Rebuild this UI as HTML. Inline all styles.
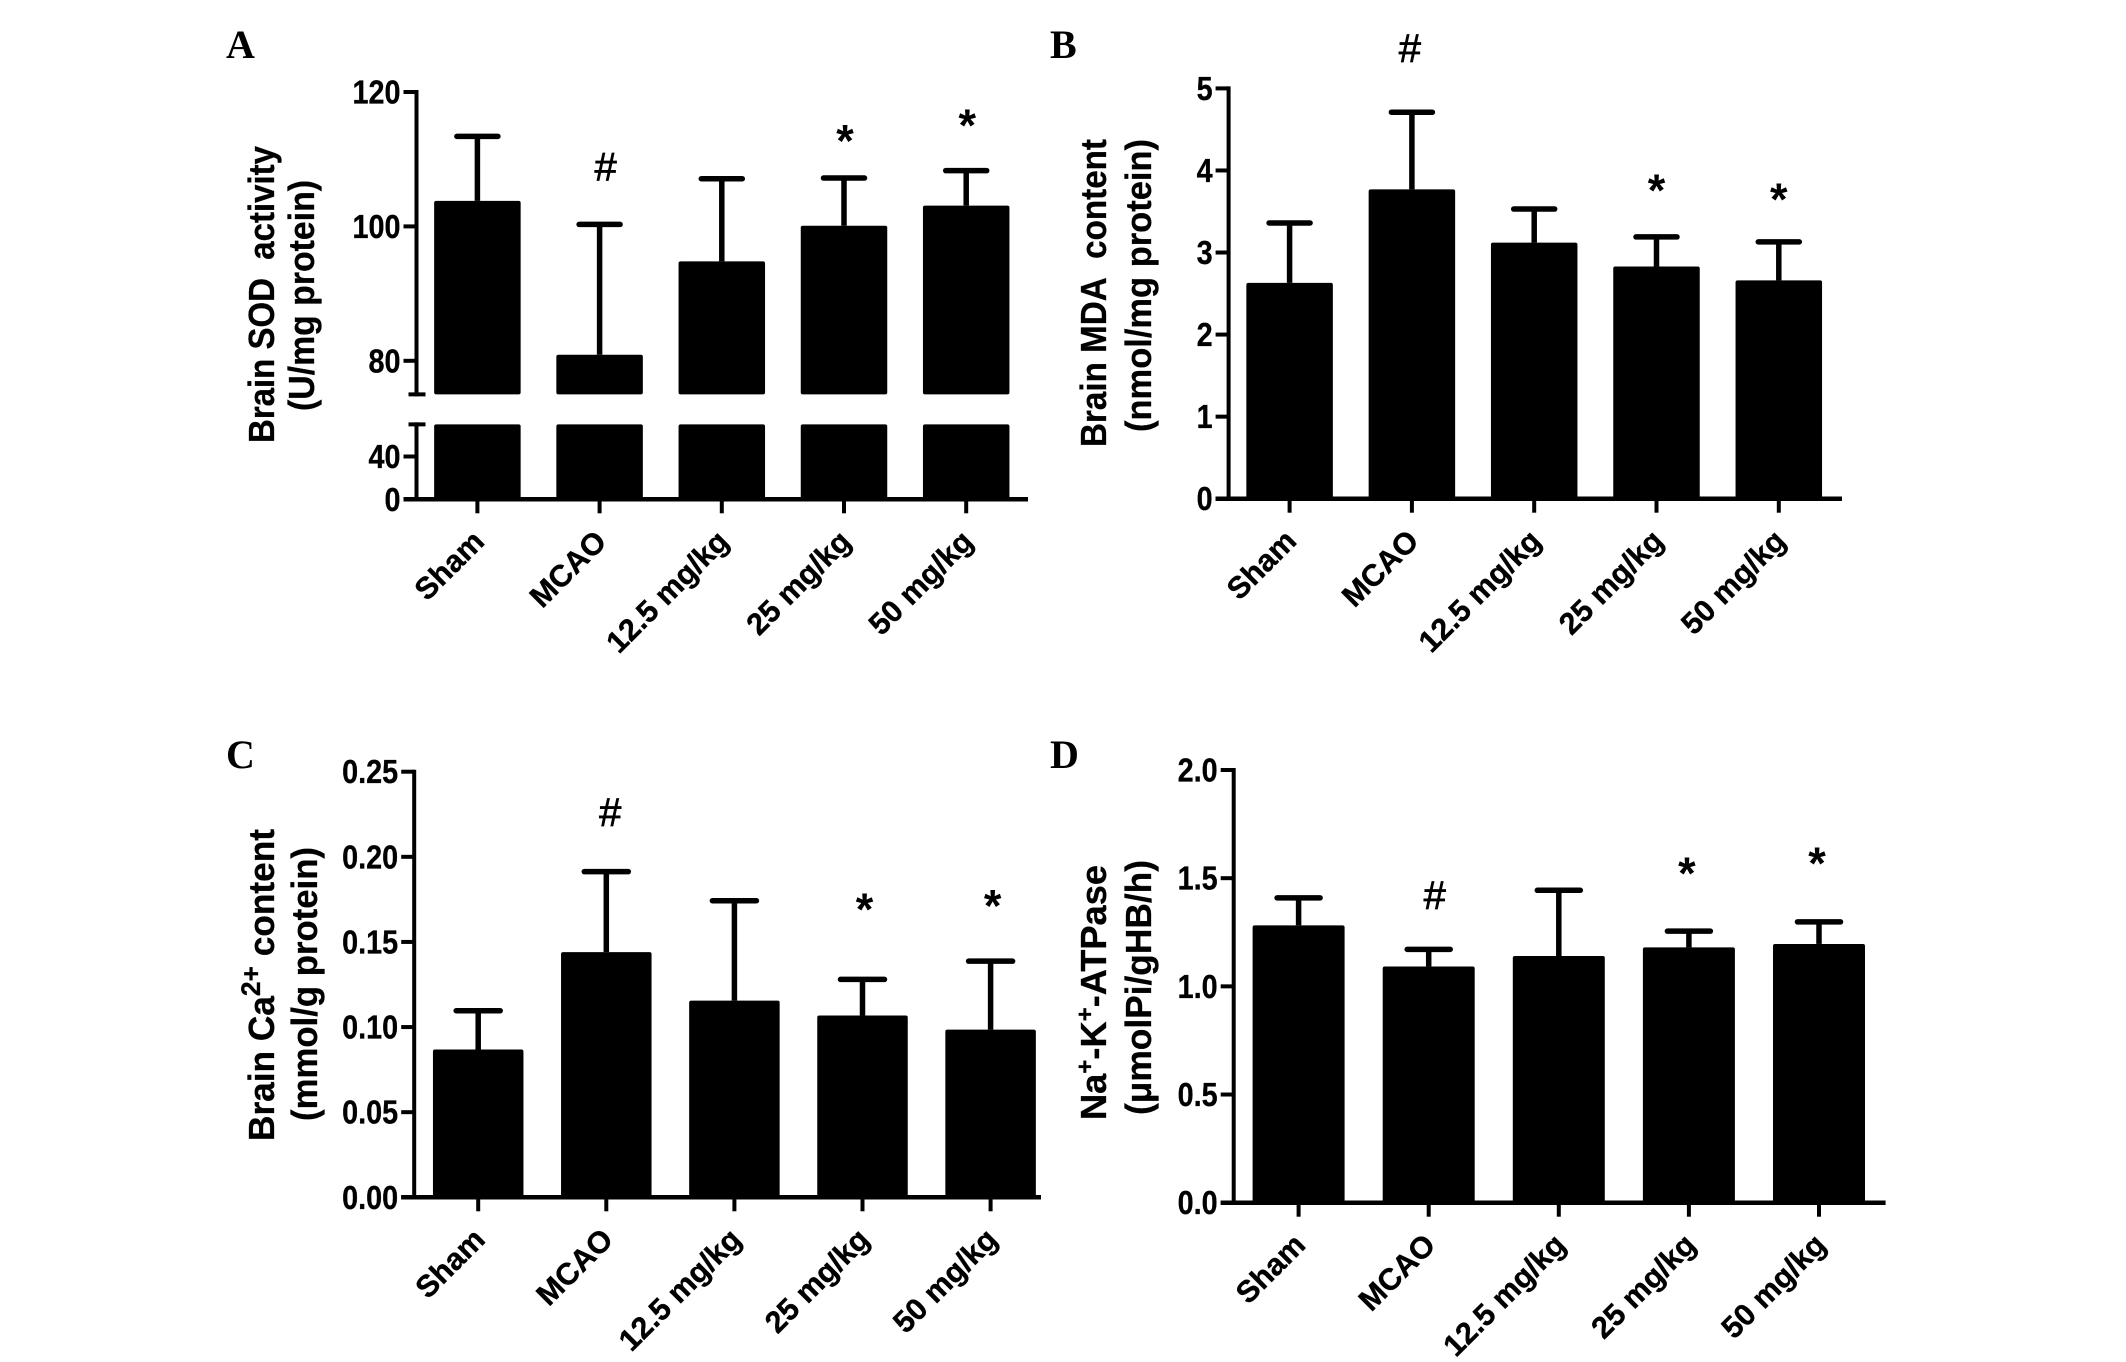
<!DOCTYPE html>
<html lang="en">
<head>
<meta charset="utf-8">
<title>Brain biochemical markers across treatment groups</title>
<style>
html,body{margin:0;padding:0;background:#fff;}
svg{display:block;}
text{font-family:"Liberation Sans",Arial,sans-serif;fill:#000;}
.tick{font-weight:700;font-size:33px;stroke:#000;stroke-width:.3px;}
.cat{font-weight:700;font-size:30.5px;stroke:#000;stroke-width:.4px;}
.title{font-weight:700;font-size:36px;stroke:#000;stroke-width:.3px;}
.panel{font-family:"Liberation Serif","Times New Roman",serif;font-weight:700;font-size:40px;}
.hash{font-size:40px;stroke:#000;stroke-width:.7px;}
.star{font-size:45px;font-weight:700;}
</style>
</head>
<body>
<svg id="fig" xmlns="http://www.w3.org/2000/svg" width="2126" height="1362" viewBox="0 0 2126 1362">
  <rect x="0" y="0" width="2126" height="1362" fill="#fff"/>

  <text class="panel" x="226" y="58">A</text>
  <text class="panel" x="1050" y="58">B</text>
  <text class="panel" x="226" y="768">C</text>
  <text class="panel" x="1050" y="768">D</text>

  <text class="title" transform="translate(274,443) rotate(-90)" textLength="297" lengthAdjust="spacingAndGlyphs">Brain SOD&#160;&#160;activity</text>
  <text class="title" transform="translate(314,411) rotate(-90)" textLength="231" lengthAdjust="spacingAndGlyphs">(U/mg protein)</text>

  <text class="title" transform="translate(1106,447) rotate(-90)" textLength="308" lengthAdjust="spacingAndGlyphs">Brain MDA&#160;&#160;content</text>
  <text class="title" transform="translate(1151,432) rotate(-90)" textLength="293" lengthAdjust="spacingAndGlyphs">(nmol/mg protein)</text>

  <text class="title" transform="translate(274,1141) rotate(-90)" textLength="312" lengthAdjust="spacingAndGlyphs">Brain Ca<tspan font-size="27" dy="-14">2+</tspan><tspan dy="14">&#160;content</tspan></text>
  <text class="title" transform="translate(317,1121) rotate(-90)" textLength="274" lengthAdjust="spacingAndGlyphs">(mmol/g protein)</text>

  <text class="title" transform="translate(1106,1120) rotate(-90)" textLength="255" lengthAdjust="spacingAndGlyphs">Na<tspan font-size="24" dy="-13">+</tspan><tspan dy="13">-K</tspan><tspan font-size="24" dy="-13">+</tspan><tspan dy="13">-ATPase</tspan></text>
  <text class="title" transform="translate(1151,1115) rotate(-90)" textLength="255" lengthAdjust="spacingAndGlyphs">(μmolPi/gHB/h)</text>
</svg>

<script>
// ---- shared categories ----
var categories = ['Sham', 'MCAO', '12.5 mg/kg', '25 mg/kg', '50 mg/kg'];
var annotationSymbols = ['', '#', '', '*', '*'];

// ---- panel A: Brain SOD activity (broken axis) ----
var sodValues = [103.8, 80.9, 94.8, 100.1, 103.1];
var sodErrorTops = [113.4, 100.3, 107.1, 107.2, 108.3];
var sodTickLabels = ['0', '40', '80', '100', '120'];
var sodAnnotationLevels = [null, 108.8, null, 113.8, 116.1];

// ---- panel B: Brain MDA content ----
var mdaValues = [2.63, 3.77, 3.12, 2.83, 2.66];
var mdaErrorTops = [3.36, 4.71, 3.53, 3.19, 3.13];
var mdaTickLabels = ['0', '1', '2', '3', '4', '5'];
var mdaAnnotationLevels = [null, 5.48, null, 3.85, 3.74];

// ---- panel C: Brain Ca2+ content ----
var caValues = [0.0868, 0.144, 0.1155, 0.1068, 0.0985];
var caErrorTops = [0.1096, 0.1913, 0.1742, 0.128, 0.1387];
var caTickLabels = ['0.00', '0.05', '0.10', '0.15', '0.20', '0.25'];
var caAnnotationLevels = [null, 0.2257, null, 0.1736, 0.1756];

// ---- panel D: Na+-K+-ATPase ----
var atpaseValues = [1.282, 1.092, 1.14, 1.18, 1.196];
var atpaseErrorTops = [1.409, 1.171, 1.444, 1.255, 1.298];
var atpaseTickLabels = ['0.0', '0.5', '1.0', '1.5', '2.0'];
var atpaseAnnotationLevels = [null, 1.4185, null, 1.557, 1.603];

var NS = 'http://www.w3.org/2000/svg';
var fig = document.getElementById('fig');

function makeEl(tag, attrs, parent) {
  var el = document.createElementNS(NS, tag);
  for (var k in attrs) { el.setAttribute(k, attrs[k]); }
  parent.appendChild(el);
  return el;
}

function linearScale(d0, d1, r0, r1) {
  return function (v) { return r0 + (v - d0) * (r1 - r0) / (d1 - d0); };
}

// width of a numeric tick label, keeping the tall-but-narrow look of the original
function tickLabelLength(t) {
  var w = 0;
  for (var i = 0; i < t.length; i++) { w += t.charAt(i) === '.' ? 0.278 : 0.556; }
  return w * 28.8;
}

function drawPanel(cfg) {
  var g = makeEl('g', {}, fig);
  
  

  var xPos = function (i) { return cfg.xFirst + cfg.step * i; };
  var y = cfg.yScale;
  var SW = 4;

  // bars
  categories.forEach(function (cat, i) {
    var cx = xPos(i);
    var v = cfg.values[i];
    var segments = cfg.barSegments(v);
    segments.forEach(function (s) {
      var bar = makeEl('rect', {x: cx - cfg.barW / 2, y: s[0], width: cfg.barW, height: s[1] - s[0], rx: 2, fill: '#000'}, g);
      
      
    });

    var topY = y(cfg.errorTops[i]);
    var stem = makeEl('line', {x1: cx, x2: cx, y1: y(v), y2: topY, stroke: '#000', 'stroke-width': 5.5}, g);
    
    

    var cap = makeEl('line', {x1: cx - cfg.capW / 2, x2: cx + cfg.capW / 2, y1: topY, y2: topY, stroke: '#000', 'stroke-width': 5.5, 'stroke-linecap': 'round'}, g);
    
    

    var tick = makeEl('line', {x1: cx, x2: cx, y1: cfg.yBase, y2: cfg.yBase + 14, stroke: '#000', 'stroke-width': SW}, g);
    
    

    var ax = cx + 8.5;
    var ay = cfg.yBase + 44;
    var lab = makeEl('text', {'class': 'cat', 'text-anchor': 'end', transform: 'translate(' + ax + ',' + ay + ') rotate(-45)'}, g);
    lab.textContent = cat;
    
    

    var sym = annotationSymbols[i];
    var lvl = cfg.annotationLevels[i];
    if (sym && lvl !== null) {
      var isHash = sym === '#';
      var note = makeEl('text', {
        'class': isHash ? 'hash' : 'star',
        'text-anchor': 'middle',
        x: cx + (isHash ? cfg.hashNudge : cfg.starNudge),
        y: y(lvl) + (isHash ? 13 : 23)
      }, g);
      note.textContent = sym;
      
      
    }
  });

  // y axis line(s)
  cfg.axisSegments.forEach(function (s) {
    var axis = makeEl('line', {x1: cfg.axisX, x2: cfg.axisX, y1: s[0] - SW / 2, y2: s[1] + SW / 2, stroke: '#000', 'stroke-width': SW}, g);
    
    
  });

  // baseline
  var base = makeEl('line', {x1: cfg.axisX - 13, x2: cfg.baseRight, y1: cfg.yBase, y2: cfg.yBase, stroke: '#000', 'stroke-width': SW + 0.5}, g);
  
  

  // y ticks + labels
  cfg.tickLabels.forEach(function (t) {
    var ty = y(parseFloat(t));
    var tk = makeEl('line', {x1: cfg.axisX - 13, x2: cfg.axisX, y1: ty, y2: ty, stroke: '#000', 'stroke-width': SW}, g);
    
    

    var tl = makeEl('text', {
      'class': 'tick', 'text-anchor': 'end', x: cfg.axisX - 16, y: ty + 11.5,
      textLength: tickLabelLength(t), lengthAdjust: 'spacingAndGlyphs'
    }, g);
    tl.textContent = t;
    
    
  });

  // axis break caps
  (cfg.breakEnds || []).forEach(function (by) {
    var bc = makeEl('line', {x1: cfg.axisX - 8, x2: cfg.axisX + 9, y1: by, y2: by, stroke: '#000', 'stroke-width': SW}, g);
    
    
  });
}

function plainScalePanel(id, values, errorTops, ticks, levels, axisMax, layout) {
  var y = linearScale(0, axisMax, layout.yBase, layout.yTop);
  drawPanel({
    id: id, values: values, errorTops: errorTops, tickLabels: ticks, annotationLevels: levels,
    yScale: y, yBase: layout.yBase, axisX: layout.axisX, xFirst: layout.xFirst, step: layout.step,
    barW: layout.barW, capW: layout.capW, baseRight: layout.baseRight,
    hashNudge: layout.hashNudge, starNudge: layout.starNudge,
    axisSegments: [[layout.yTop, layout.yBase]],
    barSegments: function (v) { return [[y(v), layout.yBase]]; }
  });
}

// Panel A uses a two-segment axis: 0-70 and 75-120
var sodBreakLow = 70;
var sodBreakHigh = 75;
var sodAxisMax = 120;
var sodUpper = linearScale(sodBreakHigh, sodAxisMax, 394.4, 92);
var sodLower = linearScale(0, sodBreakLow, 499.3, 424.4);
var sodY = function (v) { return v >= sodBreakHigh ? sodUpper(v) : sodLower(v); };

drawPanel({
  id: 'a', values: sodValues, errorTops: sodErrorTops, tickLabels: sodTickLabels,
  annotationLevels: sodAnnotationLevels,
  yScale: sodY, yBase: 499.3, axisX: 416.5, xFirst: 477.4, step: 122.2,
  barW: 86.5, capW: 41, baseRight: 1028, hashNudge: 6, starNudge: 1,
  axisSegments: [[sodUpper(sodAxisMax), sodUpper(sodBreakHigh)], [sodLower(sodBreakLow), 499.3]],
  breakEnds: [sodUpper(sodBreakHigh), sodLower(sodBreakLow)],
  barSegments: function (v) {
    return [[sodUpper(v), sodUpper(sodBreakHigh)], [sodLower(sodBreakLow), 499.3]];
  }
});

plainScalePanel('b', mdaValues, mdaErrorTops, mdaTickLabels, mdaAnnotationLevels, 5, {
  yBase: 498.7, yTop: 88.4, axisX: 1228.6, xFirst: 1289.6, step: 122.3,
  barW: 86.5, capW: 41, baseRight: 1842, hashNudge: -2, starNudge: 0
});

plainScalePanel('c', caValues, caErrorTops, caTickLabels, caAnnotationLevels, 0.25, {
  yBase: 1197.3, yTop: 771.7, axisX: 414.2, xFirst: 478.2, step: 128.1,
  barW: 90.5, capW: 44, baseRight: 1041, hashNudge: 4, starNudge: 2
});

plainScalePanel('d', atpaseValues, atpaseErrorTops, atpaseTickLabels, atpaseAnnotationLevels, 2, {
  yBase: 1202.7, yTop: 770, axisX: 1233.7, xFirst: 1298.6, step: 130.1,
  barW: 92, capW: 43, baseRight: 1885.6, hashNudge: 6, starNudge: -2
});
</script>
</body>
</html>
